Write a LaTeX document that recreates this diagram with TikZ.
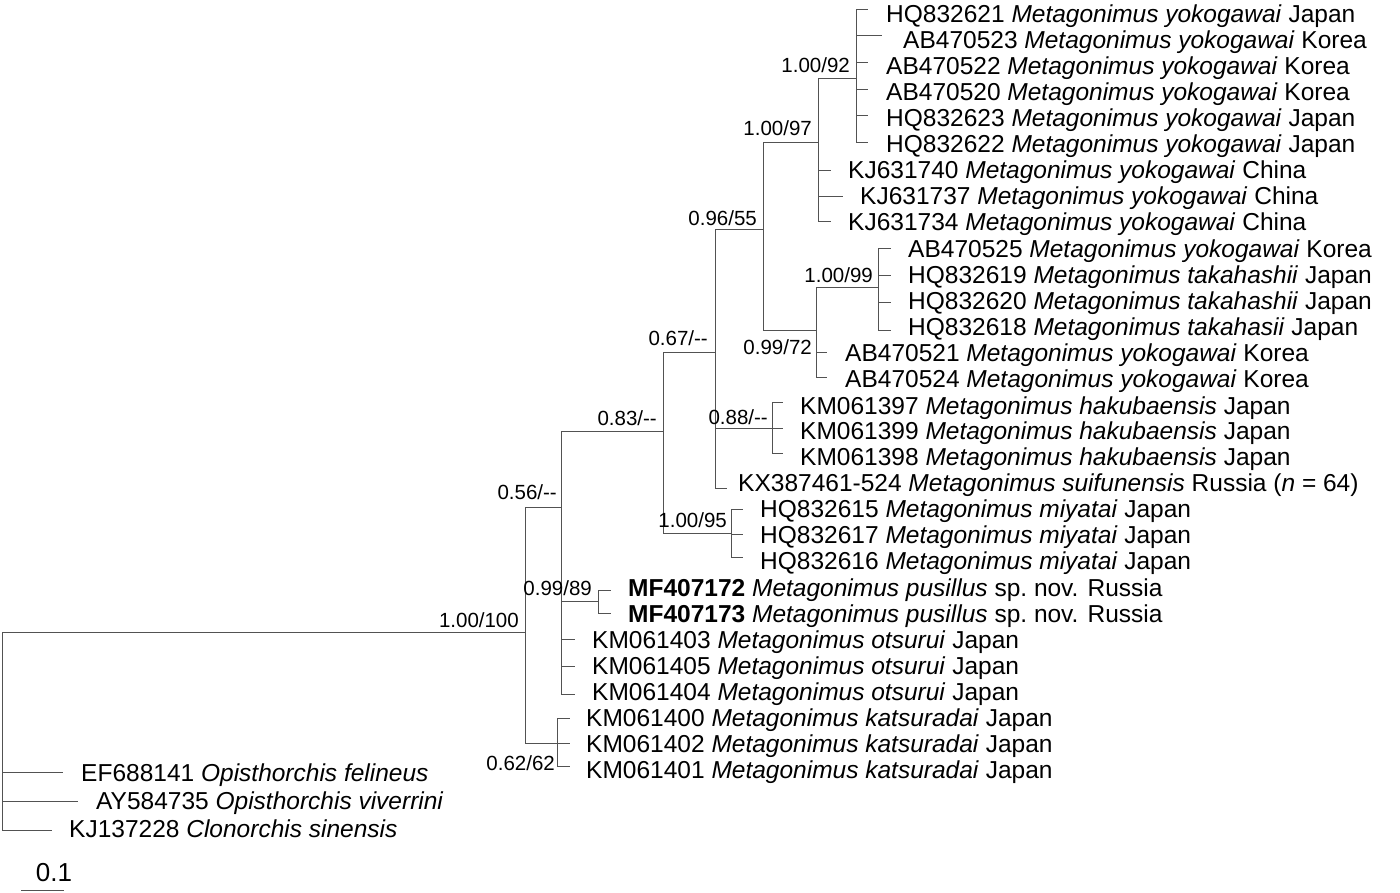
\documentclass[tikz,border=0pt]{standalone}
\usepackage{fontspec}
\setmainfont{Liberation Sans}
\newcommand{\dd}{-\kern0pt-}
\begin{document}
\begin{tikzpicture}[x=1pt,y=-1pt,
  br/.style={draw=black!68,line width=0.85pt},
  tax/.style={anchor=base west,inner sep=0pt,yshift=-8.6pt,font=\fontsize{24.5}{29}\selectfont},
  suplab/.style={anchor=base east,inner sep=0pt,yshift=-7.3pt,font=\fontsize{20.5}{24}\selectfont}]
\useasboundingbox (0,0) rectangle (1400,892);
% internal nodes
\coordinate (R) at (2,632);
\coordinate (A) at (525,632);
\coordinate (B) at (561,507);
\coordinate (C) at (663,431);
\coordinate (D) at (715,352);
\coordinate (E) at (763,229);
\coordinate (F) at (818,142);
\coordinate (G) at (856,78);
\coordinate (H) at (816,330);
\coordinate (I) at (878,287);
\coordinate (J) at (772,428);
\coordinate (K) at (731,533);
\coordinate (P) at (598,601);
\coordinate (N) at (557,743);
% tips
\coordinate (t1) at (868,9);
\coordinate (t2) at (882,35);
\coordinate (t3) at (868,62);
\coordinate (t4) at (868,89);
\coordinate (t5) at (868,115);
\coordinate (t6) at (868,142);
\coordinate (t7) at (831,170);
\coordinate (t8) at (843,196);
\coordinate (t9) at (831,221);
\coordinate (t10) at (891,248);
\coordinate (t11) at (891,275);
\coordinate (t12) at (891,302);
\coordinate (t13) at (891,330);
\coordinate (t14) at (827,352);
\coordinate (t15) at (827,377);
\coordinate (t16) at (783,402);
\coordinate (t17) at (783,428);
\coordinate (t18) at (783,453);
\coordinate (t19) at (727,488);
\coordinate (t20) at (743,509);
\coordinate (t21) at (743,534);
\coordinate (t22) at (743,557);
\coordinate (t23) at (611,590);
\coordinate (t24) at (611,613);
\coordinate (t25) at (575,639);
\coordinate (t26) at (575,666);
\coordinate (t27) at (575,694);
\coordinate (t28) at (570,718);
\coordinate (t29) at (570,743);
\coordinate (t30) at (570,766);
\coordinate (t31) at (63,772);
\coordinate (t32) at (78,801);
\coordinate (t33) at (52,830);
% branches
\draw[br] (R) -- (A);
\foreach \t in {t31,t32,t33} \draw[br] (R) |- (\t);
\draw[br] (A) |- (B);
\draw[br] (A) |- (N);
\foreach \t in {C,P,t25,t26,t27} \draw[br] (B) |- (\t);
\draw[br] (C) |- (D);
\draw[br] (C) |- (K);
\foreach \t in {E,J,t19} \draw[br] (D) |- (\t);
\draw[br] (E) |- (F);
\draw[br] (E) |- (H);
\foreach \t in {G,t7,t8,t9} \draw[br] (F) |- (\t);
\foreach \t in {t1,t2,t3,t4,t5,t6} \draw[br] (G) |- (\t);
\foreach \t in {I,t14,t15} \draw[br] (H) |- (\t);
\foreach \t in {t10,t11,t12,t13} \draw[br] (I) |- (\t);
\foreach \t in {t16,t17,t18} \draw[br] (J) |- (\t);
\foreach \t in {t20,t21,t22} \draw[br] (K) |- (\t);
\foreach \t in {t23,t24} \draw[br] (P) |- (\t);
\foreach \t in {t28,t29,t30} \draw[br] (N) |- (\t);
% taxon labels
\node[tax] (l1) at (886,14) {HQ832621 \textit{Metagonimus yokogawai} Japan};
\node[tax] (l2) at (903,40) {AB470523 \textit{Metagonimus yokogawai} Korea};
\node[tax] (l3) at (886,66) {AB470522 \textit{Metagonimus yokogawai} Korea};
\node[tax] (l4) at (886,92) {AB470520 \textit{Metagonimus yokogawai} Korea};
\node[tax] (l5) at (886,118) {HQ832623 \textit{Metagonimus yokogawai} Japan};
\node[tax] (l6) at (886,144) {HQ832622 \textit{Metagonimus yokogawai} Japan};
\node[tax] (l7) at (848,170) {KJ631740 \textit{Metagonimus yokogawai} China};
\node[tax] (l8) at (860,196) {KJ631737 \textit{Metagonimus yokogawai} China};
\node[tax] (l9) at (848,222) {KJ631734 \textit{Metagonimus yokogawai} China};
\node[tax] (l10) at (908,249) {AB470525 \textit{Metagonimus yokogawai} Korea};
\node[tax] (l11) at (908,275) {HQ832619 \textit{Metagonimus takahashii} Japan};
\node[tax] (l12) at (908,301) {HQ832620 \textit{Metagonimus takahashii} Japan};
\node[tax] (l13) at (908,327) {HQ832618 \textit{Metagonimus takahasii} Japan};
\node[tax] (l14) at (845,353) {AB470521 \textit{Metagonimus yokogawai} Korea};
\node[tax] (l15) at (845,379) {AB470524 \textit{Metagonimus yokogawai} Korea};
\node[tax] (l16) at (800,406) {KM061397 \textit{Metagonimus hakubaensis} Japan};
\node[tax] (l17) at (800,431) {KM061399 \textit{Metagonimus hakubaensis} Japan};
\node[tax] (l18) at (800,457) {KM061398 \textit{Metagonimus hakubaensis} Japan};
\node[tax] (l19) at (738,483) {KX387461-524 \textit{Metagonimus suifunensis} Russia (\textit{n} = 64)};
\node[tax] (l20) at (760,509) {HQ832615 \textit{Metagonimus miyatai} Japan};
\node[tax] (l21) at (760,535) {HQ832617 \textit{Metagonimus miyatai} Japan};
\node[tax] (l22) at (760,561) {HQ832616 \textit{Metagonimus miyatai} Japan};
\node[tax] (l23) at (628,588) {\textbf{MF407172} \textit{Metagonimus pusillus} sp.\ nov. Russia};
\node[tax] (l24) at (628,614) {\textbf{MF407173} \textit{Metagonimus pusillus} sp.\ nov. Russia};
\node[tax] (l25) at (592,640) {KM061403 \textit{Metagonimus otsurui} Japan};
\node[tax] (l26) at (592,666) {KM061405 \textit{Metagonimus otsurui} Japan};
\node[tax] (l27) at (592,692) {KM061404 \textit{Metagonimus otsurui} Japan};
\node[tax] (l28) at (586,718) {KM061400 \textit{Metagonimus katsuradai} Japan};
\node[tax] (l29) at (586,744) {KM061402 \textit{Metagonimus katsuradai} Japan};
\node[tax] (l30) at (586,770) {KM061401 \textit{Metagonimus katsuradai} Japan};
\node[tax] (l31) at (81,773) {EF688141 \textit{Opisthorchis felineus}};
\node[tax] (l32) at (96,801) {AY584735 \textit{Opisthorchis viverrini}};
\node[tax] (l33) at (69,829) {KJ137228 \textit{Clonorchis sinensis}};
% support values
\node[suplab] (sG) at (850,65) {1.00/92};
\node[suplab] (sF) at (812,128) {1.00/97};
\node[suplab] (sE) at (757,218) {0.96/55};
\node[suplab] (sI) at (873,275) {1.00/99};
\node[suplab] (sH) at (812,347) {0.99/72};
\node[suplab] (sD) at (708,338) {0.67/\dd};
\node[suplab] (sJ) at (768,417) {0.88/\dd};
\node[suplab] (sC) at (657,418) {0.83/\dd};
\node[suplab] (sK) at (727,520) {1.00/95};
\node[suplab] (sB) at (557,492) {0.56/\dd};
\node[suplab] (sP) at (592,588) {0.99/89};
\node[suplab] (sA) at (519,620) {1.00/100};
\node[suplab] (sN) at (555,763) {0.62/62};
% scale bar
\coordinate (s0) at (21,890);
\coordinate (s1) at (64,890);
\draw[br] (s0) -- (s1);
\node[anchor=base,inner sep=0pt,font=\fontsize{26}{30}\selectfont] (sc) at (54,881) {0.1};
\end{tikzpicture}
\end{document}
